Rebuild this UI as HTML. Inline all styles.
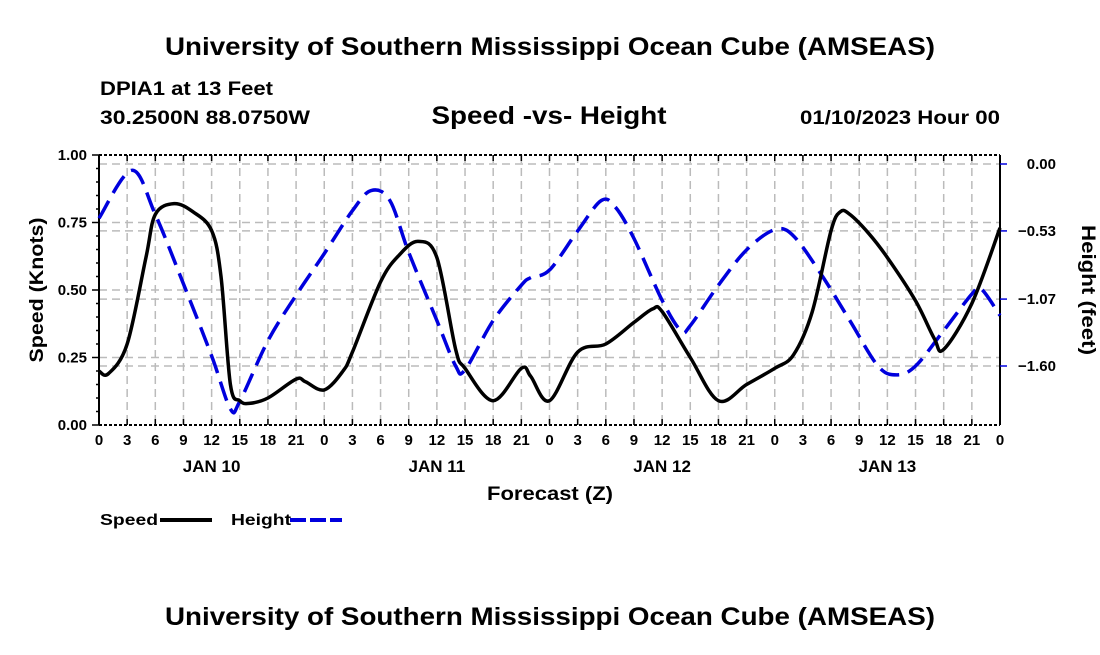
<!DOCTYPE html>
<html><head><meta charset="utf-8"><style>
body{margin:0;background:#fff;width:1100px;height:650px;overflow:hidden;font-family:"Liberation Sans",Arial,sans-serif}
svg text{font-family:"Liberation Sans",Arial,sans-serif;font-weight:bold}
</style></head><body>
<svg id="chart" width="1100" height="650" viewBox="0 0 1100 650">
<text x="550" y="55" text-anchor="middle" font-size="25" textLength="770" lengthAdjust="spacingAndGlyphs">University of Southern Mississippi Ocean Cube (AMSEAS)</text>
<text x="100" y="95" font-size="19" textLength="173" lengthAdjust="spacingAndGlyphs">DPIA1 at 13 Feet</text>
<text x="100" y="124" font-size="19" textLength="210" lengthAdjust="spacingAndGlyphs">30.2500N  88.0750W</text>
<text x="549" y="124" text-anchor="middle" font-size="25" textLength="235" lengthAdjust="spacingAndGlyphs">Speed -vs- Height</text>
<text x="1000" y="124" text-anchor="end" font-size="19" textLength="200" lengthAdjust="spacingAndGlyphs">01/10/2023 Hour 00</text>
<g id="grid"></g>
<g id="axes"></g>
<g id="series"></g>
<text x="550" y="500" text-anchor="middle" font-size="19" textLength="126" lengthAdjust="spacingAndGlyphs">Forecast (Z)</text>
<text transform="translate(43,290) rotate(-90)" text-anchor="middle" font-size="19" textLength="145" lengthAdjust="spacingAndGlyphs">Speed (Knots)</text>
<text transform="translate(1082,290) rotate(90)" text-anchor="middle" font-size="19" textLength="130" lengthAdjust="spacingAndGlyphs">Height (feet)</text>
<g>
<text x="100" y="525" font-size="16" textLength="58" lengthAdjust="spacingAndGlyphs">Speed</text>
<line x1="160" y1="520" x2="212" y2="520" stroke="#000" stroke-width="4"/>
<text x="231" y="525" font-size="16" textLength="60" lengthAdjust="spacingAndGlyphs">Height</text>
<line x1="290" y1="520" x2="342" y2="520" stroke="#0000dd" stroke-width="4" stroke-dasharray="16,4"/>
</g>
<text x="550" y="625" text-anchor="middle" font-size="25" textLength="770" lengthAdjust="spacingAndGlyphs">University of Southern Mississippi Ocean Cube (AMSEAS)</text>
</svg>
<script>
const speedHours=[0,1,3,5,6,8,10,12,13,14,15,16,18,21,22,24,26,27,30,32,34,36,38,39,42,45,46,48,51,54,57,59,60,63,66,69,72,74,76,78,79,80,82,84,87,89,90,93,96];
const speedValues=[0.20,0.19,0.30,0.62,0.78,0.82,0.79,0.72,0.55,0.15,0.09,0.08,0.10,0.17,0.16,0.13,0.20,0.27,0.53,0.63,0.68,0.62,0.28,0.21,0.09,0.21,0.18,0.09,0.27,0.30,0.38,0.43,0.42,0.25,0.09,0.15,0.21,0.26,0.42,0.72,0.79,0.78,0.71,0.62,0.46,0.32,0.28,0.45,0.73];
const heightHours=[0,3.5,6,9,12,14,15,18,21,24,27,29,31,33,36,38,39,42,45,46,48,51,53.5,55,57,60,62,63,66,69,72,74,77,80,83,85,87,90,93,94,96];
const heightValues=[-0.43,-0.05,-0.40,-0.95,-1.52,-1.94,-1.88,-1.40,-1.04,-0.71,-0.37,-0.21,-0.29,-0.70,-1.24,-1.60,-1.63,-1.24,-0.96,-0.90,-0.84,-0.53,-0.29,-0.34,-0.59,-1.08,-1.32,-1.28,-0.96,-0.68,-0.52,-0.57,-0.88,-1.24,-1.60,-1.67,-1.60,-1.32,-1.03,-0.99,-1.20];
const xTickLabels=["0","3","6","9","12","15","18","21"];
const dayLabels=["JAN 10","JAN 11","JAN 12","JAN 13"];
const speedTicks=[0,0.25,0.5,0.75,1.0];
const heightTicks=[0,-0.53,-1.07,-1.60];

const L=99,R=1000,T=155,B=425;
const xs=h=>L+(R-L)*h/96;
const ys=v=>B-(B-T)*v/1.0;
const yh=v=>164+(366-164)*(v/-1.60);
const NS="http://www.w3.org/2000/svg";
function mk(tag,attrs,parent){const e=document.createElementNS(NS,tag);for(const k in attrs)e.setAttribute(k,attrs[k]);parent.appendChild(e);return e;}
const grid=document.getElementById('grid'),axes=document.getElementById('axes'),series=document.getElementById('series');
const gs={stroke:"#bbb","stroke-width":1.5,"stroke-dasharray":"8,5"};
for(let h=3;h<96;h+=3){const l=mk('line',Object.assign({x1:xs(h),x2:xs(h),y1:T,y2:B},gs),grid);

}
speedTicks.forEach(v=>{if(v>0&&v<1){const l=mk('line',Object.assign({x1:L,x2:R,y1:ys(v),y2:ys(v)},gs),grid);

}});
heightTicks.forEach(v=>{const l=mk('line',Object.assign({x1:L,x2:R,y1:yh(v),y2:yh(v)},gs),grid);

});
mk('line',{x1:L,x2:L,y1:T,y2:B,stroke:"#000","stroke-width":2},axes);
mk('line',{x1:R,x2:R,y1:T,y2:B,stroke:"#000","stroke-width":2},axes);
mk('line',{x1:L,x2:R,y1:B,y2:B,stroke:"#000","stroke-width":2,"stroke-dasharray":"3,2"},axes);
mk('line',{x1:L,x2:R,y1:T,y2:T,stroke:"#000","stroke-width":2,"stroke-dasharray":"3,2"},axes);
for(let h=0;h<=96;h+=3){const x=xs(h);
mk('line',{x1:x,x2:x,y1:B,y2:B-6,stroke:"#000","stroke-width":1.5},axes);
mk('line',{x1:x,x2:x,y1:T,y2:T+6,stroke:"#000","stroke-width":1.5},axes);
const t=mk('text',{x:x,y:B+20,"text-anchor":"middle","font-size":15},axes);t.textContent=xTickLabels[(h/3)%8];

}
dayLabels.forEach((d,i)=>{const t=mk('text',{x:xs(12+24*i),y:B+47,"text-anchor":"middle","font-size":17},axes);t.textContent=d;

});
for(let v=0;v<=1.0001;v+=0.05){const y=ys(v);const big=Math.abs(v*4-Math.round(v*4))<1e-6;
mk('line',{x1:L-(big?7:3),x2:L,y1:y,y2:y,stroke:"#000","stroke-width":1.5},axes);}
speedTicks.forEach(v=>{const t=mk('text',{x:L-12,y:ys(v)+5,"text-anchor":"end","font-size":15},axes);t.textContent=v.toFixed(2);

});
heightTicks.forEach(v=>{mk('line',{x1:R,x2:R+7,y1:yh(v),y2:yh(v),stroke:"#0000dd","stroke-width":1.5},axes);
const t=mk('text',{x:1056,y:yh(v)+5,"text-anchor":"end","font-size":15},axes);t.textContent=v===0?"0.00":"\u2212"+Math.abs(v).toFixed(2);

});
function smooth(pts){let d=`M${pts[0][0]},${pts[0][1]}`;for(let i=0;i<pts.length-1;i++){const p0=pts[Math.max(0,i-1)],p1=pts[i],p2=pts[i+1],p3=pts[Math.min(pts.length-1,i+2)];
const c1=[p1[0]+(p2[0]-p0[0])/6,p1[1]+(p2[1]-p0[1])/6],c2=[p2[0]-(p3[0]-p1[0])/6,p2[1]-(p3[1]-p1[1])/6];
d+=` C${c1[0]},${c1[1]} ${c2[0]},${c2[1]} ${p2[0]},${p2[1]}`;}return d;}
const hp=mk('path',{d:smooth(heightHours.map((h,i)=>[xs(h),yh(heightValues[i])])),fill:"none",stroke:"#0000dd","stroke-width":3.5,"stroke-dasharray":"20,9"},series);


const sp=mk('path',{d:smooth(speedHours.map((h,i)=>[xs(h),ys(speedValues[i])])),fill:"none",stroke:"#000","stroke-width":3.5},series);


</script>
</body></html>
